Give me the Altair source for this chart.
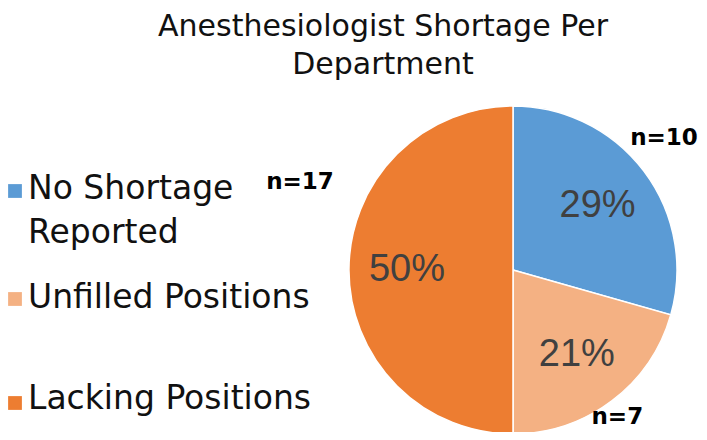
import altair as alt
import pandas as pd

categories = ["No Shortage Reported", "Unfilled Positions", "Lacking Positions"]
legend_labels = ["No Shortage\nReported", "Unfilled Positions", "Lacking Positions"]
counts = [10, 7, 17]
percent_labels = ["29%", "21%", "50%"]
n_labels = ["n=10", "n=7", "n=17"]
colors = ["#5B9BD5", "#F4B183", "#ED7D31"]
title_lines = ["Anesthesiologist Shortage Per", "Department"]

df = pd.DataFrame({
    "category": categories,
    "legend": legend_labels,
    "count": counts,
    "pct": percent_labels,
    "n": n_labels,
    "order": list(range(len(categories))),
})
title_df = pd.DataFrame({"title": ["\n".join(title_lines)]})

W, H = 691, 424
CX, CY, R = 505, 262, 164
FONT = "DejaVu Sans"

color = alt.Color("category:N", scale=alt.Scale(domain=categories, range=colors), legend=None)
theta = alt.Theta("count:Q", stack=True)
order = alt.Order("order:Q", sort="ascending")
center = dict(x=alt.value(CX), y=alt.value(CY))

base = alt.Chart(df)

pie = base.mark_arc(outerRadius=R, stroke="white", strokeWidth=1.5).encode(
    theta=theta, order=order, color=color, **center
)

pct = base.mark_text(
    font="Liberation Sans", fontSize=38, color="#404040", baseline="middle", align="center"
).encode(theta=theta, order=order, radius=alt.value(106), text="pct:N", **center)

n_offsets = {"No Shortage Reported": (-7, -13), "Unfilled Positions": (-15, -11), "Lacking Positions": (-15, -88)}
n_layers = []
for cat in categories:
    ddx, ddy = n_offsets[cat]
    n_layers.append(
        base.mark_text(
            font="DejaVu Sans", fontWeight="bold", fontSize=23, color="#000000",
            baseline="middle", align="center", dx=ddx, dy=ddy,
        ).encode(
            theta=theta, order=order, radius=alt.value(198), text="n:N",
            opacity=alt.condition(alt.datum.category == cat, alt.value(1), alt.value(0)),
            **center,
        )
    )

legend_pos = {"No Shortage Reported": (183, 191), "Unfilled Positions": (291, 300), "Lacking Positions": (395, 401)}
legend_layers = []
for cat in categories:
    sq_y, txt_y = legend_pos[cat]
    sub = base.transform_filter(alt.datum.category == cat)
    legend_layers.append(
        sub.mark_square(size=190, opacity=1).encode(color=color, x=alt.value(7), y=alt.value(sq_y))
    )
    legend_layers.append(
        sub.mark_text(
            align="left", baseline="alphabetic", font=FONT, fontSize=33,
            lineBreak="\n", lineHeight=44, color="#111111",
        ).encode(text="legend:N", x=alt.value(20), y=alt.value(txt_y))
    )

title = alt.Chart(title_df).mark_text(
    align="center", baseline="alphabetic", font=FONT, fontSize=30,
    lineBreak="\n", lineHeight=38, color="#111111",
).encode(text="title:N", x=alt.value(375), y=alt.value(28))

chart = alt.layer(pie, pct, *n_layers, *legend_layers, title).properties(
    width=W,
    height=H,
    padding=0,
    autosize=alt.AutoSizeParams(type="none"),
).configure_view(stroke=None)

chart.save("out.html", embed_options={"renderer": "svg", "actions": False})
